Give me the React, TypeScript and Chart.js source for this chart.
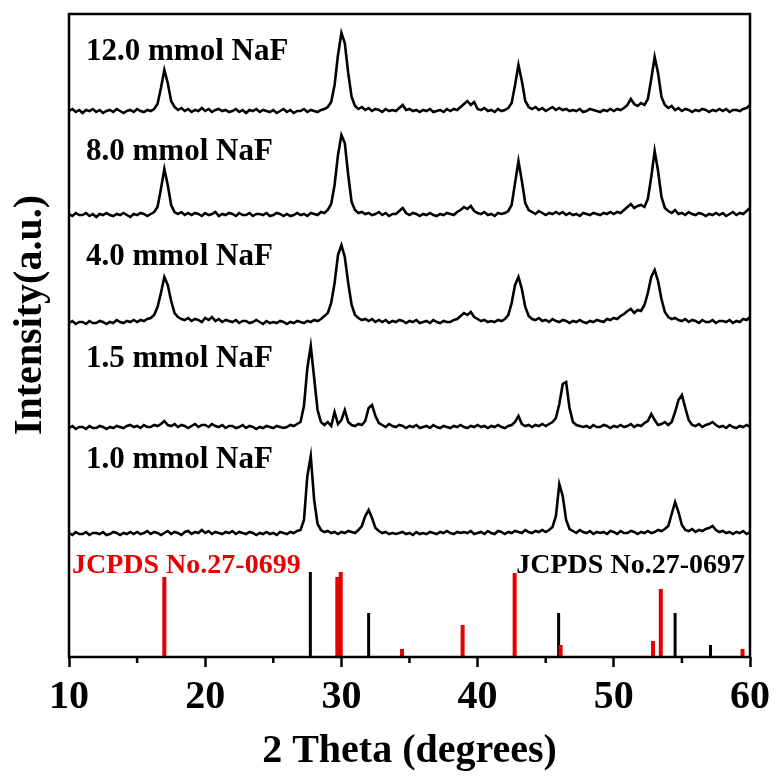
import React, { useEffect, useRef } from 'react';
import { Chart, registerables } from 'chart.js';

Chart.register(...registerables);

const FONT = '"Liberation Serif", "Times New Roman", Times, serif';

// 2θ sampling grid (degrees)
const twoTheta = [
  10, 10.25, 10.5, 10.75, 11, 11.25, 11.5, 11.75, 12, 12.25, 12.5, 12.75, 13, 13.25, 13.5, 13.75, 14, 14.25, 14.5, 14.75,
  15, 15.25, 15.5, 15.75, 16, 16.25, 16.5, 16.75, 17, 17.25, 17.5, 17.75, 18, 18.25, 18.5, 18.75, 19, 19.25, 19.5, 19.75,
  20, 20.25, 20.5, 20.75, 21, 21.25, 21.5, 21.75, 22, 22.25, 22.5, 22.75, 23, 23.25, 23.5, 23.75, 24, 24.25, 24.5, 24.75,
  25, 25.25, 25.5, 25.75, 26, 26.25, 26.5, 26.75, 27, 27.25, 27.5, 27.75, 28, 28.25, 28.5, 28.75, 29, 29.25, 29.5, 29.75,
  30, 30.25, 30.5, 30.75, 31, 31.25, 31.5, 31.75, 32, 32.25, 32.5, 32.75, 33, 33.25, 33.5, 33.75, 34, 34.25, 34.5, 34.75,
  35, 35.25, 35.5, 35.75, 36, 36.25, 36.5, 36.75, 37, 37.25, 37.5, 37.75, 38, 38.25, 38.5, 38.75, 39, 39.25, 39.5, 39.75,
  40, 40.25, 40.5, 40.75, 41, 41.25, 41.5, 41.75, 42, 42.25, 42.5, 42.75, 43, 43.25, 43.5, 43.75, 44, 44.25, 44.5, 44.75,
  45, 45.25, 45.5, 45.75, 46, 46.25, 46.5, 46.75, 47, 47.25, 47.5, 47.75, 48, 48.25, 48.5, 48.75, 49, 49.25, 49.5, 49.75,
  50, 50.25, 50.5, 50.75, 51, 51.25, 51.5, 51.75, 52, 52.25, 52.5, 52.75, 53, 53.25, 53.5, 53.75, 54, 54.25, 54.5, 54.75,
  55, 55.25, 55.5, 55.75, 56, 56.25, 56.5, 56.75, 57, 57.25, 57.5, 57.75, 58, 58.25, 58.5, 58.75, 59, 59.25, 59.5, 59.75,
  60,
];

// Intensities (a.u., relative to each trace's own baseline)
const int12 = [
  2, 4, 1, 3, 0, 3, 2, 4, 1, 3, 0, 2, 3, 1, 4, 2, 0, 2, 3, 1,
  4, 2, 1, 3, 2, 4, 9, 25, 43, 30, 12, 6, 3, 5, 2, 4, 1, 3, 2, 5,
  2, 4, 1, 3, 4, 2, 3, 1, 2, 4, 1, 3, 0, 3, 2, 4, 1, 3, 2, 1,
  3, 0, 2, 4, 1, 3, 0, 2, 2, 4, 1, 3, 2, 1, 3, 4, 6, 11, 28, 58,
  80, 70, 40, 16, 7, 4, 6, 3, 5, 2, 4, 3, 1, 4, 2, 3, 2, 5, 8, 3,
  4, 2, 3, 1, 3, 2, 4, 1, 2, 3, 1, 4, 2, 4, 3, 6, 9, 12, 8, 11,
  4, 3, 5, 2, 3, 1, 4, 2, 3, 5, 10, 28, 48, 32, 12, 6, 4, 6, 3, 5,
  2, 4, 6, 3, 5, 3, 4, 2, 3, 2, 4, 1, 2, 4, 3, 2, 1, 3, 2, 4,
  2, 4, 3, 5, 8, 14, 9, 7, 10, 8, 14, 34, 56, 40, 16, 8, 5, 7, 3, 5,
  2, 4, 3, 1, 3, 2, 4, 3, 1, 3, 2, 4, 2, 4, 1, 3, 3, 2, 4, 5,
  8,
];
const int8 = [
  3, 1, 4, 2, 2, 4, 1, 3, 0, 3, 2, 4, 2, 1, 3, 2, 4, 2, 0, 3,
  2, 4, 3, 1, 3, 5, 10, 28, 48, 32, 12, 5, 3, 5, 2, 4, 2, 4, 3, 1,
  4, 2, 3, 5, 1, 3, 2, 4, 3, 1, 4, 2, 2, 4, 1, 3, 3, 2, 4, 1,
  2, 4, 3, 1, 3, 1, 2, 4, 2, 3, 1, 4, 3, 2, 5, 4, 7, 13, 32, 62,
  82, 74, 42, 15, 7, 4, 5, 3, 4, 2, 3, 5, 2, 4, 1, 3, 3, 6, 9, 4,
  2, 4, 3, 1, 3, 2, 4, 2, 1, 3, 2, 4, 3, 2, 5, 7, 10, 8, 11, 6,
  4, 3, 5, 2, 3, 1, 4, 3, 4, 6, 12, 34, 56, 36, 14, 7, 5, 3, 6, 4,
  2, 4, 3, 5, 3, 5, 2, 4, 2, 3, 1, 4, 3, 2, 4, 3, 2, 4, 3, 5,
  3, 5, 4, 7, 10, 13, 9, 11, 12, 10, 18, 40, 66, 46, 20, 9, 6, 4, 7, 3,
  4, 2, 5, 3, 2, 4, 3, 1, 3, 2, 4, 2, 4, 1, 3, 5, 2, 4, 3, 6,
  9,
];
const int4 = [
  2, 4, 1, 3, 3, 1, 4, 2, 2, 4, 3, 1, 3, 2, 5, 3, 2, 4, 3, 5,
  3, 5, 4, 6, 7, 10, 18, 32, 48, 40, 24, 12, 8, 6, 5, 7, 4, 6, 5, 3,
  7, 5, 8, 4, 6, 3, 5, 4, 3, 5, 2, 4, 4, 2, 3, 5, 3, 1, 4, 2,
  3, 2, 4, 3, 1, 3, 2, 4, 3, 2, 4, 3, 5, 4, 6, 9, 12, 22, 42, 70,
  80, 68, 42, 20, 10, 7, 5, 6, 4, 6, 3, 5, 3, 5, 2, 4, 3, 5, 4, 2,
  4, 3, 5, 2, 3, 4, 2, 5, 3, 2, 4, 3, 3, 5, 6, 9, 12, 10, 13, 8,
  6, 4, 5, 3, 4, 3, 5, 4, 6, 10, 22, 40, 48, 36, 18, 9, 6, 5, 7, 4,
  5, 3, 6, 4, 3, 5, 4, 2, 4, 3, 5, 3, 2, 4, 3, 5, 4, 3, 6, 5,
  7, 6, 9, 11, 14, 16, 12, 15, 14, 20, 32, 48, 55, 44, 26, 13, 8, 6, 7, 5,
  4, 6, 3, 5, 4, 2, 5, 3, 3, 5, 2, 4, 4, 3, 5, 2, 4, 3, 6, 5,
  8,
];
const int15 = [
  2, 4, 1, 3, 3, 1, 4, 2, 2, 4, 3, 1, 3, 2, 4, 3, 2, 4, 5, 3,
  4, 2, 5, 3, 3, 5, 4, 6, 9, 5, 4, 6, 3, 5, 4, 2, 4, 6, 3, 5,
  5, 3, 6, 4, 3, 5, 2, 4, 4, 2, 3, 5, 2, 4, 3, 1, 3, 2, 4, 3,
  2, 4, 3, 2, 3, 5, 4, 6, 8, 24, 62, 84, 52, 20, 8, 5, 8, 4, 18, 6,
  10, 20, 8, 5, 4, 6, 5, 9, 22, 25, 14, 7, 5, 3, 6, 4, 3, 5, 4, 2,
  4, 3, 5, 2, 3, 4, 2, 5, 3, 2, 4, 3, 2, 4, 3, 5, 3, 2, 4, 3,
  5, 3, 4, 2, 4, 3, 5, 3, 2, 4, 5, 8, 14, 6, 4, 5, 3, 5, 4, 6,
  4, 6, 8, 12, 26, 46, 48, 22, 8, 5, 4, 3, 4, 2, 5, 3, 3, 5, 4, 2,
  4, 3, 5, 3, 4, 6, 3, 5, 4, 7, 9, 16, 10, 5, 6, 8, 5, 8, 18, 30,
  35, 22, 10, 5, 4, 6, 3, 5, 6, 8, 5, 3, 4, 2, 5, 3, 2, 4, 3, 5,
  3,
];
const int10 = [
  3, 1, 4, 2, 2, 4, 1, 3, 3, 2, 4, 1, 2, 4, 3, 1, 3, 2, 4, 2,
  4, 2, 3, 5, 2, 4, 3, 1, 3, 5, 2, 4, 3, 1, 4, 5, 2, 4, 3, 6,
  3, 5, 2, 4, 3, 2, 4, 3, 5, 2, 4, 3, 2, 4, 3, 1, 3, 2, 4, 2,
  3, 1, 4, 3, 2, 4, 3, 5, 6, 16, 60, 80, 36, 12, 6, 4, 5, 3, 4, 2,
  4, 3, 5, 4, 3, 6, 10, 20, 26, 18, 8, 5, 3, 4, 2, 3, 2, 3, 4, 2,
  3, 1, 4, 2, 3, 2, 4, 3, 2, 4, 3, 5, 3, 2, 4, 3, 4, 3, 5, 2,
  3, 4, 2, 5, 3, 2, 5, 4, 2, 4, 3, 5, 4, 3, 6, 4, 3, 5, 4, 6,
  4, 6, 9, 20, 52, 40, 16, 7, 5, 3, 6, 4, 3, 5, 2, 4, 3, 4, 2, 5,
  4, 2, 5, 3, 3, 5, 4, 2, 4, 3, 5, 3, 4, 6, 5, 7, 10, 22, 34, 24,
  11, 6, 5, 7, 4, 6, 5, 7, 8, 10, 6, 4, 5, 3, 4, 2, 4, 3, 5, 2,
  4,
];

const seriesNames = ['12.0 mmol NaF', '8.0 mmol NaF', '4.0 mmol NaF', '1.5 mmol NaF', '1.0 mmol NaF'];
const seriesValues = [int12, int8, int4, int15, int10];
const seriesOffsets = [544, 440, 332, 227, 121];

// Label anchors in data coordinates (2θ, intensity)
const labelAnchorX = 11.25;
const labelAnchorY = [597, 497, 392, 290, 189];

// Reference patterns
const redRefPos = [17.0, 29.7, 29.95, 34.45, 38.9, 42.72, 46.1, 52.88, 53.45, 59.45];
const redRefInt = [80, 80, 85, 8, 32, 84, 12, 16, 68, 8];
const blackRefPos = [27.72, 32.0, 45.95, 54.5, 57.1];
const blackRefInt = [85, 44, 44, 44, 12];
const refNames = ['JCPDS No.27-0699', 'JCPDS No.27-0697'];
const refLabelX = [10.22, 59.63];
const refLabelY = 84;

const yTitle = 'Intensity(a.u.)';
const yTitleCenter = 342; // intensity units where the rotated title is centred

const RED = 'rgb(230,0,0)';

function sticks(pos: number[], ints: number[]) {
  const out: any[] = [];
  pos.forEach((p, i) => {
    out.push({ x: p, y: 0 }, { x: p, y: ints[i] }, { x: p, y: null });
  });
  return out;
}

const decorPlugin = {
  id: 'decor',
  afterDatasetsDraw(chart: any) {
    const { ctx, chartArea: a, scales } = chart;
    const xs = scales.x;
    const ys = scales.y;
    ctx.save();
    // series labels
    ctx.font = `bold 31px ${FONT}`;
    ctx.fillStyle = '#000';
    ctx.textBaseline = 'alphabetic';
    ctx.textAlign = 'left';
    seriesNames.forEach((n, i) => {
      ctx.fillText(n, xs.getPixelForValue(labelAnchorX), ys.getPixelForValue(labelAnchorY[i]));
    });
    // reference labels
    ctx.font = `bold 28px ${FONT}`;
    ctx.fillStyle = RED;
    ctx.textAlign = 'left';
    ctx.fillText(refNames[0], xs.getPixelForValue(refLabelX[0]), ys.getPixelForValue(refLabelY));
    ctx.fillStyle = '#000';
    ctx.textAlign = 'right';
    ctx.fillText(refNames[1], xs.getPixelForValue(refLabelX[1]), ys.getPixelForValue(refLabelY));
    // y-axis title
    ctx.save();
    ctx.translate(31, ys.getPixelForValue(yTitleCenter));
    ctx.rotate(-Math.PI / 2);
    ctx.font = `bold 40px ${FONT}`;
    ctx.textAlign = 'center';
    ctx.textBaseline = 'middle';
    ctx.fillStyle = '#000';
    ctx.fillText(yTitle, 0, 0);
    ctx.restore();
    // frame
    ctx.strokeStyle = '#000';
    ctx.lineWidth = 2.5;
    ctx.strokeRect(a.left, a.top, a.right - a.left, a.bottom - a.top);
    // minor ticks
    xs.ticks.forEach((t: any) => {
      if (t.value % 10 !== 0) {
        const px = xs.getPixelForValue(t.value);
        ctx.beginPath();
        ctx.moveTo(px, a.bottom);
        ctx.lineTo(px, a.bottom + 6);
        ctx.stroke();
      }
    });
    ctx.restore();
  },
};

export default function App() {
  const ref = useRef<HTMLCanvasElement | null>(null);

  useEffect(() => {
    if (!ref.current) return;
    const traceSets = seriesValues.map((vals, k) => ({
      label: seriesNames[k],
      data: twoTheta.map((x, i) => ({ x, y: vals[i] + seriesOffsets[k] })),
      borderColor: '#000',
      borderWidth: 2.6,
      pointRadius: 0,
      tension: 0,
      fill: false,
    }));
    const chart = new Chart(ref.current, {
      type: 'line',
      data: {
        datasets: [
          ...traceSets,
          {
            label: refNames[0],
            data: sticks(redRefPos, redRefInt),
            borderColor: RED,
            borderWidth: 4,
            borderCapStyle: 'butt',
            pointRadius: 0,
            spanGaps: false,
            fill: false,
          },
          {
            label: refNames[1],
            data: sticks(blackRefPos, blackRefInt),
            borderColor: '#000',
            borderWidth: 3,
            borderCapStyle: 'butt',
            pointRadius: 0,
            spanGaps: false,
            fill: false,
          },
        ] as any,
      },
      options: {
        responsive: false,
        animation: false,
        layout: { padding: { top: 14, right: 24, left: 0, bottom: 0 } },
        plugins: { legend: { display: false }, tooltip: { enabled: false } },
        scales: {
          x: {
            type: 'linear',
            min: 10,
            max: 60,
            ticks: {
              stepSize: 5,
              autoSkip: false,
              maxRotation: 0,
              padding: 7,
              color: '#000',
              font: { family: FONT, size: 40, weight: 'bold' },
              callback: (v: any) => (Number(v) % 10 === 0 ? String(v) : ''),
            },
            grid: {
              drawOnChartArea: false,
              tickLength: 10,
              tickWidth: 2.5,
              tickColor: (c: any) => (c.tick && c.tick.value % 10 === 0 ? '#000' : 'rgba(0,0,0,0)'),
            },
            border: { display: false },
            title: {
              display: true,
              text: '2 Theta (degrees)',
              color: '#000',
              font: { family: FONT, size: 40, weight: 'bold' },
              padding: { top: 0, bottom: 0 },
            },
            afterFit: (s: any) => {
              s.height = 119;
            },
          },
          y: {
            min: 0,
            max: 643,
            ticks: { display: false },
            grid: { display: false },
            border: { display: false },
            title: { display: false },
            afterFit: (s: any) => {
              s.width = 69;
            },
          },
        },
      } as any,
      plugins: [decorPlugin],
    });
    return () => chart.destroy();
  }, []);

  return (
    <div style={{ position: 'absolute', left: 0, top: 0, width: 777, height: 776, background: '#fff' }}>
      <canvas ref={ref} width={777} height={776} />
    </div>
  );
}
